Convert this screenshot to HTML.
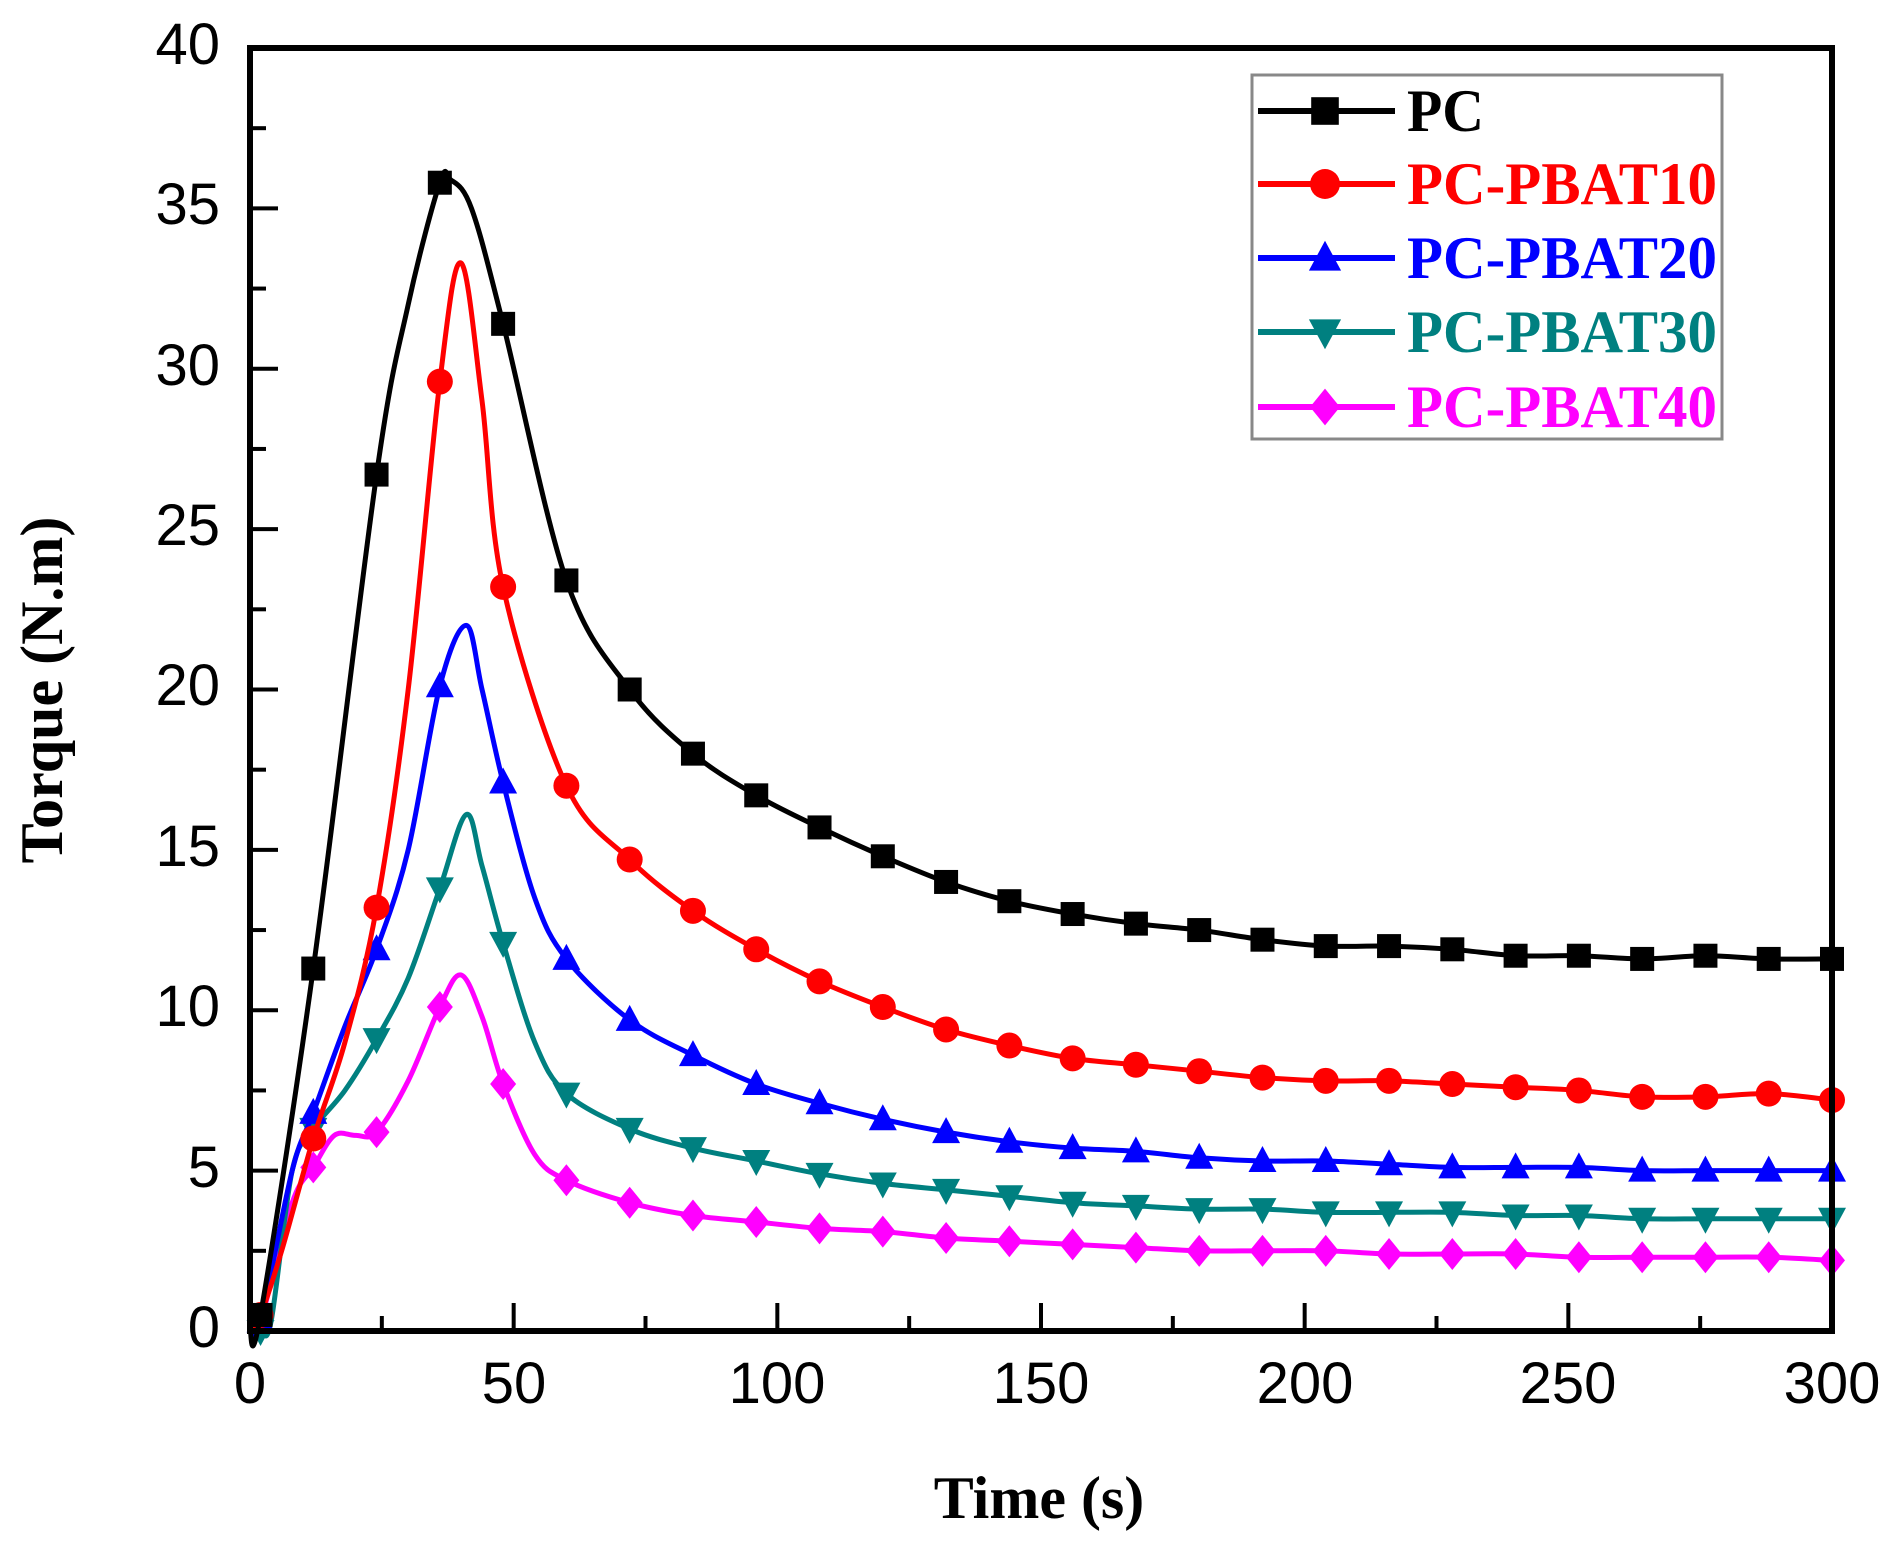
<!DOCTYPE html>
<html><head><meta charset="utf-8"><style>
html,body{margin:0;padding:0;background:#fff;}
svg{display:block;}
</style></head><body>
<svg id="c" width="1894" height="1555" xmlns="http://www.w3.org/2000/svg">
<rect width="1894" height="1555" fill="#fff"/>
<g id="ticks" stroke="#000" stroke-width="4"></g>
<g id="series"></g>
<rect x="250" y="48" width="1582" height="1283" fill="none" stroke="#000" stroke-width="6"/>
<rect x="1252" y="75" width="470" height="364" fill="none" stroke="#888" stroke-width="3"/>
<g font-family="Liberation Sans, sans-serif" font-size="58" fill="#000" text-anchor="end">
<text x="220" y="64">40</text><text x="220" y="224">35</text><text x="220" y="385">30</text>
<text x="220" y="545">25</text><text x="220" y="705">20</text><text x="220" y="866">15</text>
<text x="220" y="1026">10</text><text x="220" y="1187">5</text><text x="220" y="1347">0</text>
</g>
<g font-family="Liberation Sans, sans-serif" font-size="58" fill="#000" text-anchor="middle">
<text x="250" y="1403">0</text><text x="514" y="1403">50</text><text x="777" y="1403">100</text>
<text x="1041" y="1403">150</text><text x="1305" y="1403">200</text><text x="1568" y="1403">250</text>
<text x="1832" y="1403">300</text>
</g>
<text x="1039" y="1518" font-family="Liberation Serif, serif" font-weight="bold" font-size="60" text-anchor="middle">Time (s)</text>
<text transform="translate(62,690) rotate(-90)" font-family="Liberation Serif, serif" font-weight="bold" font-size="60" text-anchor="middle">Torque (N.m)</text>
<g id="legend" font-family="Liberation Serif, serif" font-weight="bold" font-size="60"></g>
</svg>
<script>
var NS="http://www.w3.org/2000/svg";
function X(t){return 250+t*1582/300;}
function Y(v){return 1331-v*1283/40;}
function el(n,a,p){var e=document.createElementNS(NS,n);for(var k in a)e.setAttribute(k,a[k]);p.appendChild(e);return e;}
var tk=document.getElementById('ticks');
for(var v=0;v<=40;v+=2.5){var L=(v%5==0)?28:16;el('line',{x1:250,x2:250+L,y1:Y(v),y2:Y(v)},tk);}
for(var t=0;t<=300;t+=25){var L=(t%50==0)?28:15;el('line',{x1:X(t),x2:X(t),y1:1331,y2:1331-L},tk);}
var late=[60,72,84,96,108,120,132,144,156,168,180,192,204,216,228,240,252,264,276,288,300];
function mk(early,tail){var a=early.slice();for(var i=0;i<late.length;i++)a.push([late[i],tail[i]]);return a;}
var S=[
{c:"#000",m:"sq",n:"PC",d:mk([[0,0],[2,0.5],[12,11.3],[24,26.7],[30,32],[36,35.8],[38,35.9],[42,35],[48,31.4]],[23.4,20,18,16.7,15.7,14.8,14,13.4,13,12.7,12.5,12.2,12,12,11.9,11.7,11.7,11.6,11.7,11.6,11.6])},
{c:"#ff0000",m:"ci",n:"PC-PBAT10",d:mk([[0,0],[2,0.5],[6,2.5],[12,6],[18,9],[24,13.2],[30,20],[36,29.6],[40,33.3],[44,29],[48,23.2]],[17,14.7,13.1,11.9,10.9,10.1,9.4,8.9,8.5,8.3,8.1,7.9,7.8,7.8,7.7,7.6,7.5,7.3,7.3,7.4,7.2])},
{c:"#0000ff",m:"tu",n:"PC-PBAT20",d:mk([[0,0],[2,0.3],[8,5],[12,6.8],[18,9.5],[24,11.9],[30,15],[36,20.1],[41,22],[44,20],[48,17.1],[54,13.5]],[11.6,9.7,8.6,7.7,7.1,6.6,6.2,5.9,5.7,5.6,5.4,5.3,5.3,5.2,5.1,5.1,5.1,5.0,5.0,5.0,5.0])},
{c:"#008080",m:"td",n:"PC-PBAT30",d:mk([[0,0],[2,0],[4,0.3],[8,5],[12,6.3],[18,7.5],[24,9.1],[30,11],[36,13.8],[41,16.1],[44,14.5],[48,12.1],[54,9]],[7.4,6.3,5.7,5.3,4.9,4.6,4.4,4.2,4.0,3.9,3.8,3.8,3.7,3.7,3.7,3.6,3.6,3.5,3.5,3.5,3.5])},
{c:"#ff00ff",m:"di",n:"PC-PBAT40",d:mk([[0,0],[2,0.3],[8,4],[12,5.1],[16,6.1],[20,6.1],[24,6.2],[30,7.8],[36,10.1],[40,11.1],[44,9.8],[48,7.7],[54,5.5]],[4.7,4.0,3.6,3.4,3.2,3.1,2.9,2.8,2.7,2.6,2.5,2.5,2.5,2.4,2.4,2.4,2.3,2.3,2.3,2.3,2.2])}
];
function marker(type,x,y,c,p,s){s=s||1;
 if(type=="sq")el('rect',{x:x-12*s,y:y-12*s,width:24*s,height:24*s,fill:c},p);
 else if(type=="ci")el('circle',{cx:x,cy:y,r:13*s,fill:c},p);
 else if(type=="tu")el('polygon',{points:(x)+","+(y-15*s)+" "+(x+14*s)+","+(y+11*s)+" "+(x-14*s)+","+(y+11*s),fill:c},p);
 else if(type=="td")el('polygon',{points:(x)+","+(y+15*s)+" "+(x+14*s)+","+(y-11*s)+" "+(x-14*s)+","+(y-11*s),fill:c},p);
 else el('polygon',{points:x+","+(y-16*s)+" "+(x+13*s)+","+y+" "+x+","+(y+16*s)+" "+(x-13*s)+","+y,fill:c},p);
}
var g=document.getElementById('series');
S.slice().reverse().forEach(function(s){
 var P=s.d.map(function(q){return [X(q[0]),Y(q[1])];});
 var d="M"+P[0][0]+","+P[0][1];
 for(var i=0;i<P.length-1;i++){var p0=P[i-1]||P[i],p1=P[i],p2=P[i+1],p3=P[i+2]||P[i+1];
  d+=" C"+(p1[0]+(p2[0]-p0[0])/6)+","+(p1[1]+(p2[1]-p0[1])/6)+" "+(p2[0]-(p3[0]-p1[0])/6)+","+(p2[1]-(p3[1]-p1[1])/6)+" "+p2[0]+","+p2[1];}
 el('path',{d:d,fill:"none",stroke:s.c,"stroke-width":5},g);
 s.d.forEach(function(q){if(q[0]%12==0||q[0]==2){if(q[0]==0)return;marker(s.m,X(q[0]),Y(q[1]),s.c,g);}});
});
var lg=document.getElementById('legend');var ys=[111,184,258,332,407];
var tl=[77,310,310,310,310];
S.forEach(function(s,i){var y=ys[i];
 el('line',{x1:1258,x2:1395,y1:y,y2:y,stroke:s.c,"stroke-width":6},lg);
 marker(s.m,1325,y,s.c,lg,1.15);
 var t=el('text',{x:1407,y:y+20,fill:s.c,textLength:tl[i],lengthAdjust:"spacingAndGlyphs"},lg);t.textContent=s.n;});
</script>
</body></html>
